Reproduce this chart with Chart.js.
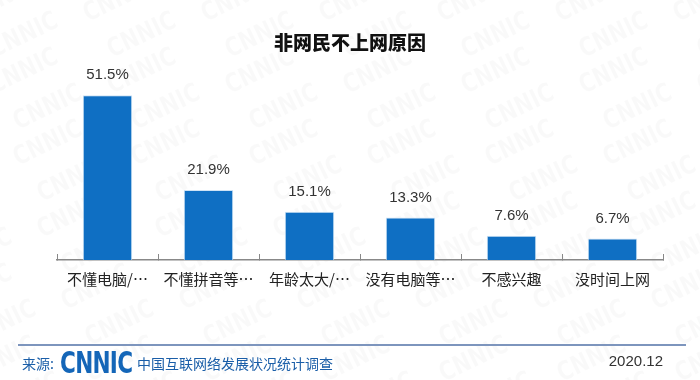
<!DOCTYPE html>
<html>
<head>
<meta charset="utf-8">
<script src="https://cdn.jsdelivr.net/npm/chart.js@4.4.1/dist/chart.umd.min.js"></script>
<style>
  html, body { margin: 0; padding: 0; background: #fff; }
  #wrap { position: relative; width: 700px; height: 380px; overflow: hidden; }
  #c { position: absolute; left: 0; top: 0; }
  .t { position: absolute; white-space: nowrap; font-family: "Liberation Sans", "Noto Sans CJK SC", sans-serif; }
  #title { left: 0; width: 700px; top: 28px; text-align: center; font-size: 19px; font-weight: 900; color: #111; font-family: "Noto Sans CJK SC", sans-serif; }
  #rule { position: absolute; left: 18px; width: 668px; top: 344px; height: 2px; background: #7d95bd; }
  #src { left: 22px; top: 353px; font-size: 14px; color: #1a5ea8; font-family: "Noto Sans CJK SC", sans-serif; }
  #logo { left: 60px; top: 345px; font-size: 30px; font-weight: 900; color: #1466b8; font-family: "DejaVu Sans", sans-serif; transform: scaleX(0.72); transform-origin: left top; letter-spacing: -1px; }
  #org { left: 137px; top: 353px; font-size: 14px; color: #1a5ea8; font-family: "Noto Sans CJK SC", sans-serif; }
  #date { right: 37px; top: 352px; font-size: 15px; color: #333; }
</style>
</head>
<body>
<div id="wrap">
  <canvas id="c" width="700" height="380"></canvas>
  <div class="t" id="title">非网民不上网原因</div>
  <div id="rule"></div>
  <div class="t" id="src">来源:</div>
  <div class="t" id="logo">CNNIC</div>
  <div class="t" id="org">中国互联网络发展状况统计调查</div>
  <div class="t" id="date">2020.12</div>
</div>
<script>
const categories = ["不懂电脑/⋯", "不懂拼音等⋯", "年龄太大/⋯", "没有电脑等⋯", "不感兴趣", "没时间上网"];
const shares = [51.5, 21.9, 15.1, 13.3, 7.6, 6.7];

const barColor = "#0f6fc3";
const textFont = '"Liberation Sans", "Noto Sans CJK SC", sans-serif';
const cjkFont = '"Noto Sans CJK SC", "Liberation Sans", sans-serif';

// faint diagonal CNNIC watermark behind everything
const watermark = {
    id: "watermark",
    beforeDraw(chart) {
        const ctx = chart.ctx;
        ctx.save();
        ctx.fillStyle = "rgba(0,0,0,0.022)";
        ctx.font = "bold 26px 'DejaVu Sans', sans-serif";
        ctx.textAlign = "center";
        ctx.textBaseline = "middle";
        for (let row = -2; row < 14; row++) {
            for (let col = -1; col < 8; col++) {
                const x = col * 118 + (row % 2) * 12 + row * 12;
                const y = row * 36;
                ctx.save();
                ctx.translate(x, y);
                ctx.rotate(-0.45);
                ctx.scale(0.8, 1);
                ctx.fillText("CNNIC", 0, 0);
                ctx.restore();
            }
        }
        ctx.restore();
    }
};

// value labels above the bars
const valueLabels = {
    id: "valueLabels",
    afterDatasetsDraw(chart) {
        const ctx = chart.ctx;
        const meta = chart.getDatasetMeta(0);
        ctx.save();
        ctx.fillStyle = "#333";
        ctx.font = "15px " + textFont;
        ctx.textAlign = "center";
        ctx.textBaseline = "middle";
        meta.data.forEach((bar, i) => {
            ctx.fillText(shares[i].toFixed(1) + "%", bar.x, bar.y - 20);
        });
        ctx.restore();
    }
};

new Chart(document.getElementById("c"), {
    type: "bar",
    data: {
        labels: categories,
        datasets: [{
            data: shares,
            backgroundColor: barColor,
            borderColor: "#cfe3f5",
            borderWidth: { left: 1, right: 1, top: 1, bottom: 0 },
            barPercentage: 0.49,
            categoryPercentage: 1
        }]
    },
    options: {
        responsive: false,
        animation: false,
        events: [],
        layout: {
            padding: { left: 57, right: 37, top: 68, bottom: 76 }
        },
        plugins: {
            legend: { display: false },
            tooltip: { enabled: false },
            title: { display: false }
        },
        scales: {
            x: {
                grid: {
                    drawOnChartArea: false,
                    drawTicks: true,
                    tickLength: -6,
                    color: "#888",
                    lineWidth: 1
                },
                border: { color: "#888", width: 1.5 },
                ticks: {
                    color: "#222",
                    padding: 16,
                    maxRotation: 0,
                    autoSkip: false,
                    font: { size: 15, family: cjkFont }
                }
            },
            y: {
                display: false,
                min: 0,
                max: 60
            }
        }
    },
    plugins: [watermark, valueLabels]
});
</script>
</body>
</html>
